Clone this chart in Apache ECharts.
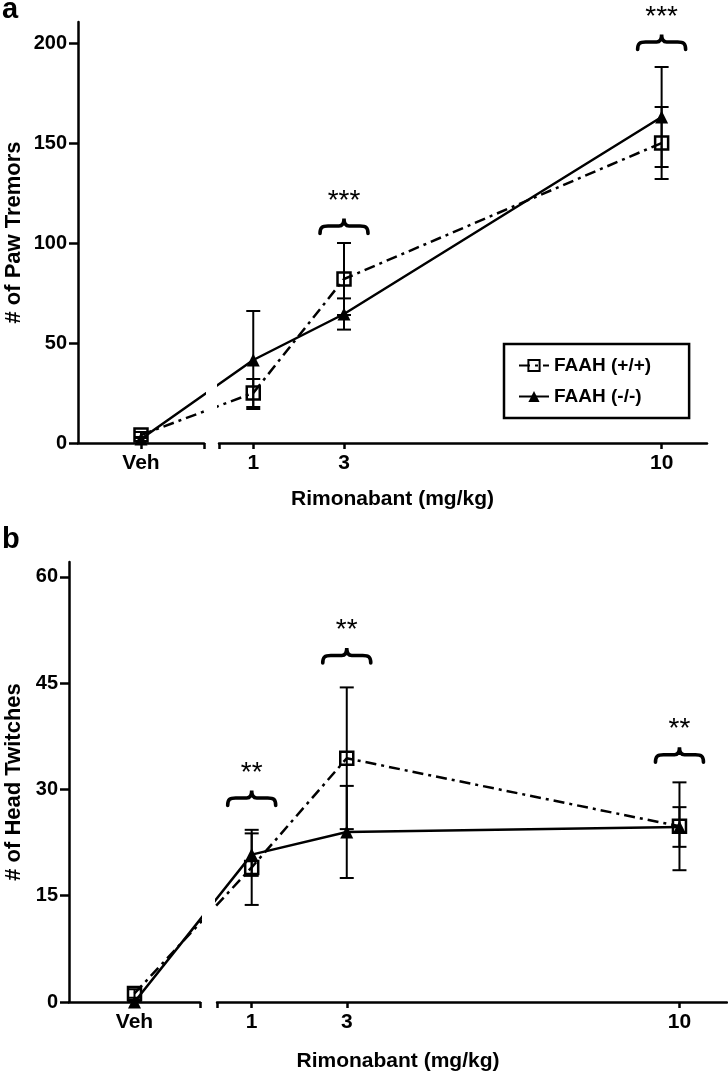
<!DOCTYPE html>
<html><head><meta charset="utf-8">
<script src="https://cdn.jsdelivr.net/npm/echarts@6/dist/echarts.min.js"></script>
<style>html,body{margin:0;padding:0;background:#fff}#c{width:728px;height:1073px}</style>
</head><body><div id="c"></div>
<script>
// ---------------- data ----------------
const doseLabels = ['Veh', '1', '3', '10'];
const doseValues = [1, 3, 10];            // numeric doses (Veh sits on the broken segment)
const seriesNames = ['FAAH (+/+)', 'FAAH (-/-)'];
const xAxisTitle = 'Rimonabant (mg/kg)';

const pawWT = [4, 25, 82, 150];
const pawWTsem = [1.5, 7, 18, 18];
const pawKO = [2, 41.5, 64.5, 163];
const pawKOsem = [1, 24.5, 7.8, 25];
const pawYTicks = [0, 50, 100, 150, 200];
const pawSigDoses = [3, 10];
const pawSigLevels = [108.5, 200.5];
const pawSigText = ['***', '***'];

const headWT = [1.2, 19, 34.4, 24.8];
const headWTsem = [0.6, 5.3, 10, 6.2];
const headKO = [0, 20.8, 24, 24.7];
const headKOsem = [0, 3, 6.5, 2.8];
const headYTicks = [0, 15, 30, 45, 60];
const headSigDoses = [1, 3, 10];
const headSigLevels = [28.8, 48.9, 34.9];
const headSigText = ['**', '**', '**'];

// ---------------- layout ----------------
const FONT = '"Liberation Sans", Arial, sans-serif';
const panels = [
  { letter: 'a', yName: '# of Paw Tremors', wt: pawWT, wtE: pawWTsem, ko: pawKO, koE: pawKOsem,
    yTicks: pawYTicks, yMax: 210.5, sigD: pawSigDoses, sigL: pawSigLevels, sigT: pawSigText,
    top: 22, bottom: 443, leftL: 78, leftR: 204, rightL: 219, rightR: 707, xMin: 0.245, xMax: 11,
    yNameGap: 53, xNameY: 499, letterY: 10 },
  { letter: 'b', yName: '# of Head Twitches', wt: headWT, wtE: headWTsem, ko: headKO, koE: headKOsem,
    yTicks: headYTicks, yMax: 62.1, sigD: headSigDoses, sigL: headSigLevels, sigT: headSigText,
    top: 562, bottom: 1002, leftL: 69, leftR: 200, rightL: 217, rightR: 727, xMin: 0.27, xMax: 11,
    yNameGap: 44, xNameY: 1061, letterY: 540 }
];

const grids = [], xAxes = [], yAxes = [], series = [];
const LW = 2.5;
const BRACE = 'M0,15 C0,9 2,7.5 8,7.5 L19,7.5 C23,7.5 24,4 24,0 C24,4 25,7.5 29,7.5 L40,7.5 C46,7.5 48,9 48,15';

function errRender(params, api) {
  const x = api.value(0), lo = api.value(1), hi = api.value(2);
  const a = api.coord([x, hi]), b = api.coord([x, lo]);
  const w = 7, st = { stroke: '#000', lineWidth: 2 };
  return { type: 'group', children: [
    { type: 'line', shape: { x1: a[0], y1: a[1], x2: b[0], y2: b[1] }, style: st },
    { type: 'line', shape: { x1: a[0] - w, y1: a[1], x2: a[0] + w, y2: a[1] }, style: st },
    { type: 'line', shape: { x1: b[0] - w, y1: b[1], x2: b[0] + w, y2: b[1] }, style: st }
  ]};
}

function sigRenderFor(texts) {
  return function (params, api) {
    const c = api.coord([api.value(0), api.value(1)]);
    const bw = 48, bh = 15;
    return { type: 'group', children: [
      { type: 'path', shape: { pathData: BRACE, x: c[0] - bw / 2, y: c[1] - bh / 2, width: bw, height: bh },
        style: { fill: 'none', stroke: '#000', lineWidth: 3.6, lineCap: 'round' } },
      { type: 'text', style: { text: texts[params.dataIndex], x: c[0], y: c[1] - 25, textAlign: 'center',
        textVerticalAlign: 'middle', font: 'normal 28px ' + FONT, fill: '#000' } }
    ]};
  };
}

panels.forEach((p, pi) => {
  const unitPx = (p.rightR - p.rightL) / (p.xMax - p.xMin);
  const leftMax = p.xMin - (p.rightL - p.leftR) / unitPx;
  const leftMin = leftMax - (p.leftR - p.leftL) / unitPx;
  const veh = (leftMin + leftMax) / 2;
  const xVals = [veh].concat(doseValues);
  const gL = pi * 2, gR = pi * 2 + 1;
  const h = p.bottom - p.top;
  grids.push({ left: p.leftL, top: p.top, width: p.leftR - p.leftL, height: h, containLabel: false, outerBoundsMode: 'none' });
  grids.push({ left: p.rightL, top: p.top, width: p.rightR - p.rightL, height: h, containLabel: false, outerBoundsMode: 'none' });

  const axLine = { show: true, onZero: false, lineStyle: { color: '#000', width: LW } };
  const xLabel = { color: '#000', fontFamily: FONT, fontWeight: 'bold', fontSize: 21, margin: 10 };
  xAxes.push({ gridIndex: gL, type: 'value', min: leftMin, max: leftMax, splitLine: { show: false },
    axisLine: axLine,
    axisTick: { show: true, customValues: [veh, leftMax], length: 6, lineStyle: { color: '#000', width: LW } },
    axisLabel: Object.assign({ customValues: [veh], formatter: () => doseLabels[0] }, xLabel) });
  xAxes.push({ gridIndex: gR, type: 'value', min: p.xMin, max: p.xMax, splitLine: { show: false },
    axisLine: axLine,
    axisTick: { show: true, customValues: [p.xMin].concat(doseValues), length: 6, lineStyle: { color: '#000', width: LW } },
    axisLabel: Object.assign({ customValues: doseValues,
      formatter: v => doseLabels[doseValues.indexOf(v) + 1] || '' }, xLabel) });

  yAxes.push({ gridIndex: gL, type: 'value', min: 0, max: p.yMax, splitLine: { show: false },
    axisLine: axLine,
    axisTick: { show: true, customValues: p.yTicks, length: 9, lineStyle: { color: '#000', width: LW } },
    axisLabel: { customValues: p.yTicks, color: '#000', fontFamily: FONT, fontWeight: 'bold', fontSize: 20, margin: 11 },
    name: p.yName, nameLocation: 'middle', nameRotate: 90, nameGap: p.yNameGap,
    nameTextStyle: { color: '#000', fontFamily: FONT, fontWeight: 'bold', fontSize: 22 } });
  yAxes.push({ gridIndex: gR, type: 'value', min: 0, max: p.yMax, show: false });

  [gL, gR].forEach(g => {
    const idx = g === gL ? [0] : [1, 2, 3];
    series.push({ type: 'custom', name: 'errWT' + g, xAxisIndex: g, yAxisIndex: g, z: 2, renderItem: errRender,
      data: idx.map(i => [xVals[i], p.wt[i] - p.wtE[i], p.wt[i] + p.wtE[i]]) });
    series.push({ type: 'custom', name: 'errKO' + g, xAxisIndex: g, yAxisIndex: g, z: 2, renderItem: errRender,
      data: idx.map(i => [xVals[i], p.ko[i] - p.koE[i], p.ko[i] + p.koE[i]]) });
    series.push({ type: 'line', name: seriesNames[0], xAxisIndex: g, yAxisIndex: g, z: 3, clip: true,
      data: xVals.map((x, i) => [x, p.wt[i]]),
      symbol: 'rect', symbolSize: 13,
      itemStyle: { color: 'rgba(255,255,255,0)', borderColor: '#000', borderWidth: LW },
      lineStyle: { color: '#000', width: LW, type: [11, 5, 3, 5] } });
    series.push({ type: 'line', name: seriesNames[1], xAxisIndex: g, yAxisIndex: g, z: 4, clip: true,
      data: xVals.map((x, i) => [x, p.ko[i]]),
      symbol: 'triangle', symbolSize: 13,
      itemStyle: { color: '#000', borderColor: '#000', borderWidth: 0 },
      lineStyle: { color: '#000', width: LW, type: 'solid' } });
  });
  series.push({ type: 'custom', name: 'sig' + pi, xAxisIndex: gR, yAxisIndex: gR, z: 5, clip: false,
    renderItem: sigRenderFor(p.sigT), data: p.sigD.map((d, i) => [d, p.sigL[i]]) });
});

const gfx = [];
panels.forEach(p => {
  gfx.push({ type: 'text', style: { text: p.letter, x: 2, y: p.letterY, textVerticalAlign: 'middle',
    font: 'bold 29px ' + FONT, fill: '#000' } });
  gfx.push({ type: 'text', style: { text: xAxisTitle, x: (p.leftL + p.rightR) / 2, y: p.xNameY,
    textAlign: 'center', textVerticalAlign: 'middle', font: 'bold 21px ' + FONT, fill: '#000' } });
});

const chart = echarts.init(document.getElementById('c'), null, { renderer: 'canvas' });
chart.setOption({
  animation: false,
  backgroundColor: '#fff',
  grid: grids, xAxis: xAxes, yAxis: yAxes, series: series,
  graphic: gfx,
  legend: { data: seriesNames, orient: 'vertical', left: 504, top: 344, selectedMode: false,
    borderColor: '#000', borderWidth: 2.5, padding: [12, 38, 12, 14], itemGap: 12,
    itemWidth: 30, itemHeight: 14,
    textStyle: { color: '#000', fontFamily: FONT, fontWeight: 'bold', fontSize: 19 } }
});
</script></body></html>
